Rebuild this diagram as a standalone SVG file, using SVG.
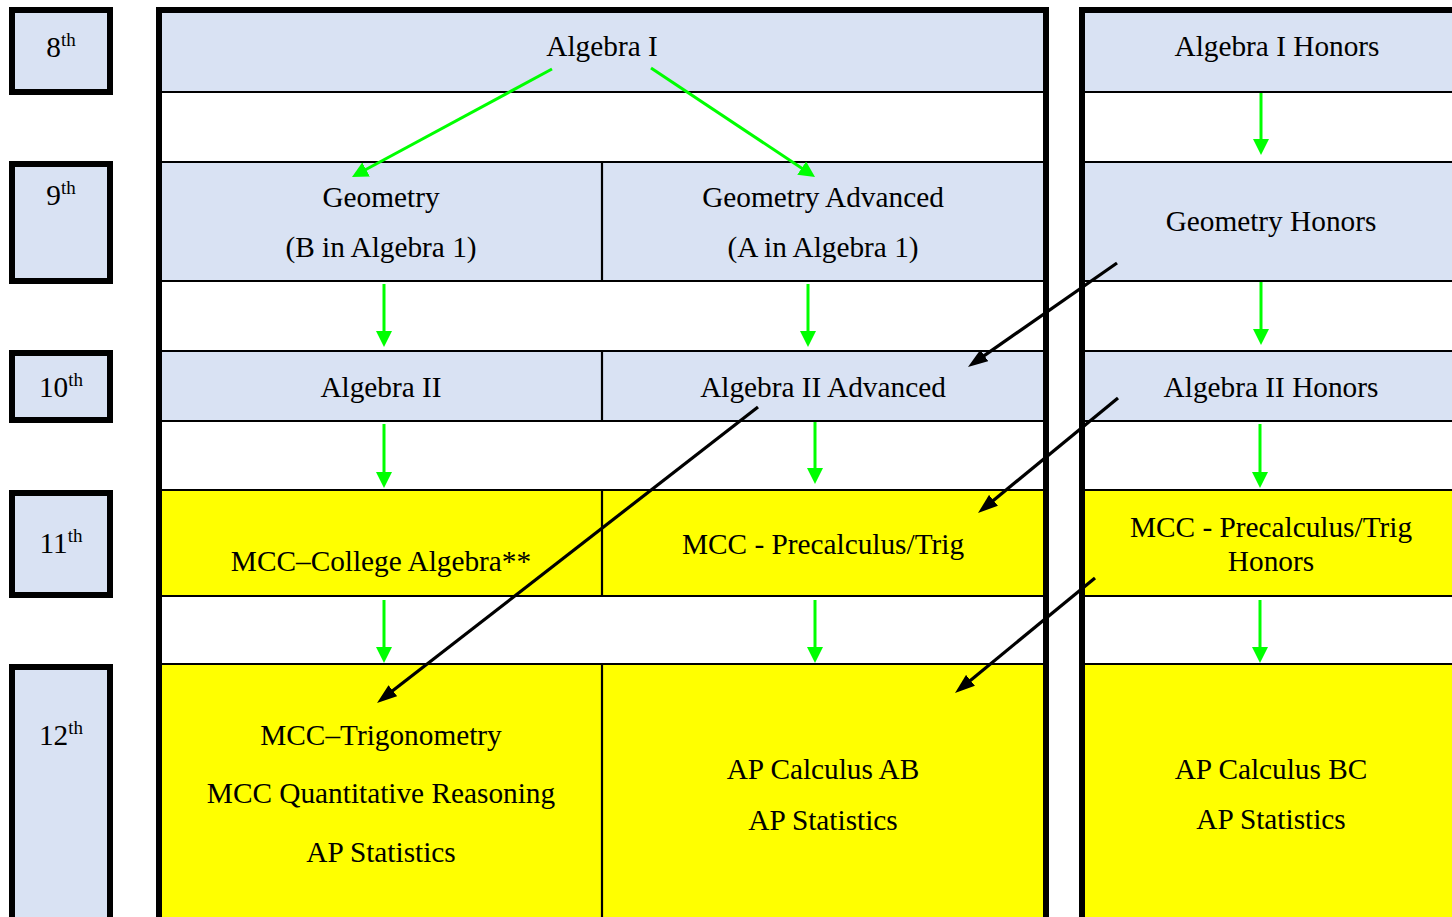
<svg xmlns="http://www.w3.org/2000/svg" width="1452" height="917" viewBox="0 0 1452 917">
<style>
text{font-family:"Liberation Serif","Times New Roman",serif;font-size:29.3px;fill:#000;text-anchor:middle}
.blue{fill:#D9E2F3}
.yel{fill:#FFFF00}
.thin{stroke:#000;stroke-width:2.2;fill:none}
.thick{stroke:#000;stroke-width:6;fill:none}
.gb{stroke:#000;stroke-width:6;fill:#D9E2F3}
.g{stroke:#00FF00;stroke-width:3;fill:none}
.k{stroke:#000;stroke-width:3.2;fill:none}
.sup{font-size:19px}
</style>
<defs>
<marker id="ga" markerUnits="userSpaceOnUse" markerWidth="16" markerHeight="16" refX="6" refY="8" orient="auto"><path d="M0,0 L16,8 L0,16 z" fill="#00FF00"/></marker>
<marker id="ka" markerUnits="userSpaceOnUse" markerWidth="20" markerHeight="14" refX="8" refY="7" orient="auto"><path d="M0,0 L20,7 L0,14 z" fill="#000"/></marker>
</defs>
<rect width="1452" height="917" fill="#fff"/>
<g id="grades">
<g id="g8"><rect x="12" y="10" width="98" height="82" class="gb"/><text x="61" y="57">8<tspan class="sup" dy="-11">th</tspan></text></g>
<g id="g9"><rect x="12" y="164" width="98" height="117" class="gb"/><text x="61" y="205">9<tspan class="sup" dy="-11">th</tspan></text></g>
<g id="g10"><rect x="12" y="353" width="98" height="67" class="gb"/><text x="61" y="397">10<tspan class="sup" dy="-11">th</tspan></text></g>
<g id="g11"><rect x="12" y="493" width="98" height="102" class="gb"/><text x="61" y="553">11<tspan class="sup" dy="-11">th</tspan></text></g>
<g id="g12"><rect x="12" y="667" width="98" height="260" class="gb"/><text x="61" y="745">12<tspan class="sup" dy="-11">th</tspan></text></g>
</g>
<g id="cells">
<rect x="162" y="13" width="881" height="79" class="blue"/>
<rect x="162" y="162" width="881" height="119" class="blue"/>
<rect x="162" y="351" width="881" height="70" class="blue"/>
<rect x="162" y="490" width="881" height="106" class="yel"/>
<rect x="162" y="664" width="881" height="253" class="yel"/>
<rect x="1085" y="13" width="367" height="79" class="blue"/>
<rect x="1085" y="162" width="367" height="119" class="blue"/>
<rect x="1085" y="351" width="367" height="70" class="blue"/>
<rect x="1085" y="490" width="367" height="106" class="yel"/>
<rect x="1085" y="664" width="367" height="253" class="yel"/>
<path class="thin" d="M162,92H1043M162,162H1043M162,281H1043M162,351H1043M162,421H1043M162,490H1043M162,596H1043M162,664H1043M602,162V281M602,351V421M602,490V596M602,664V917"/>
<path class="thin" d="M1085,92H1452M1085,162H1452M1085,281H1452M1085,351H1452M1085,421H1452M1085,490H1452M1085,596H1452M1085,664H1452"/>
<path class="thick" d="M159,920V10H1046V920M1082,920V10H1452"/>
</g>
<g id="n-alg1"><text x="602" y="56">Algebra I</text></g>
<g id="n-alg1h"><text x="1277" y="56">Algebra I Honors</text></g>
<g id="n-geo"><text x="381" y="207">Geometry</text><text x="381" y="257">(B in Algebra 1)</text></g>
<g id="n-geoadv"><text x="823" y="207">Geometry Advanced</text><text x="823" y="257">(A in Algebra 1)</text></g>
<g id="n-geoh"><text x="1271" y="231">Geometry Honors</text></g>
<g id="n-alg2"><text x="381" y="397">Algebra II</text></g>
<g id="n-alg2adv"><text x="823" y="397">Algebra II Advanced</text></g>
<g id="n-alg2h"><text x="1271" y="397">Algebra II Honors</text></g>
<g id="n-colalg"><text x="381" y="571">MCC–College Algebra**</text></g>
<g id="n-precalc"><text x="823" y="554">MCC - Precalculus/Trig</text></g>
<g id="n-precalch"><text x="1271" y="537">MCC - Precalculus/Trig</text><text x="1271" y="571">Honors</text></g>
<g id="n-12a"><text x="381" y="745">MCC–Trigonometry</text><text x="381" y="803">MCC Quantitative Reasoning</text><text x="381" y="862">AP Statistics</text></g>
<g id="n-12b"><text x="823" y="779">AP Calculus AB</text><text x="823" y="830">AP Statistics</text></g>
<g id="n-12c"><text x="1271" y="779">AP Calculus BC</text><text x="1271" y="829">AP Statistics</text></g>
<g id="connectors">
<line class="g" x1="552" y1="69" x2="360.8" y2="172.3" marker-end="url(#ga)"/>
<line class="g" x1="651" y1="68" x2="806.7" y2="171.5" marker-end="url(#ga)"/>
<line class="g" x1="1261" y1="93" x2="1261" y2="145" marker-end="url(#ga)"/>
<line class="g" x1="384" y1="284" x2="384" y2="337" marker-end="url(#ga)"/>
<line class="g" x1="808" y1="284" x2="808" y2="337" marker-end="url(#ga)"/>
<line class="g" x1="1261" y1="282" x2="1261" y2="335" marker-end="url(#ga)"/>
<line class="g" x1="384" y1="424" x2="384" y2="478" marker-end="url(#ga)"/>
<line class="g" x1="815" y1="422" x2="815" y2="474" marker-end="url(#ga)"/>
<line class="g" x1="1260" y1="424" x2="1260" y2="478" marker-end="url(#ga)"/>
<line class="g" x1="384" y1="600" x2="384" y2="653" marker-end="url(#ga)"/>
<line class="g" x1="815" y1="600" x2="815" y2="653" marker-end="url(#ga)"/>
<line class="g" x1="1260" y1="600" x2="1260" y2="653" marker-end="url(#ga)"/>
<line class="k" x1="1117" y1="263" x2="977.8" y2="360.1" marker-end="url(#ka)"/>
<line class="k" x1="1118" y1="398" x2="987.3" y2="505.4" marker-end="url(#ka)"/>
<line class="k" x1="758" y1="407" x2="386.5" y2="695.6" marker-end="url(#ka)"/>
<line class="k" x1="1095" y1="578" x2="964.3" y2="685.4" marker-end="url(#ka)"/>
</g>
</svg>
